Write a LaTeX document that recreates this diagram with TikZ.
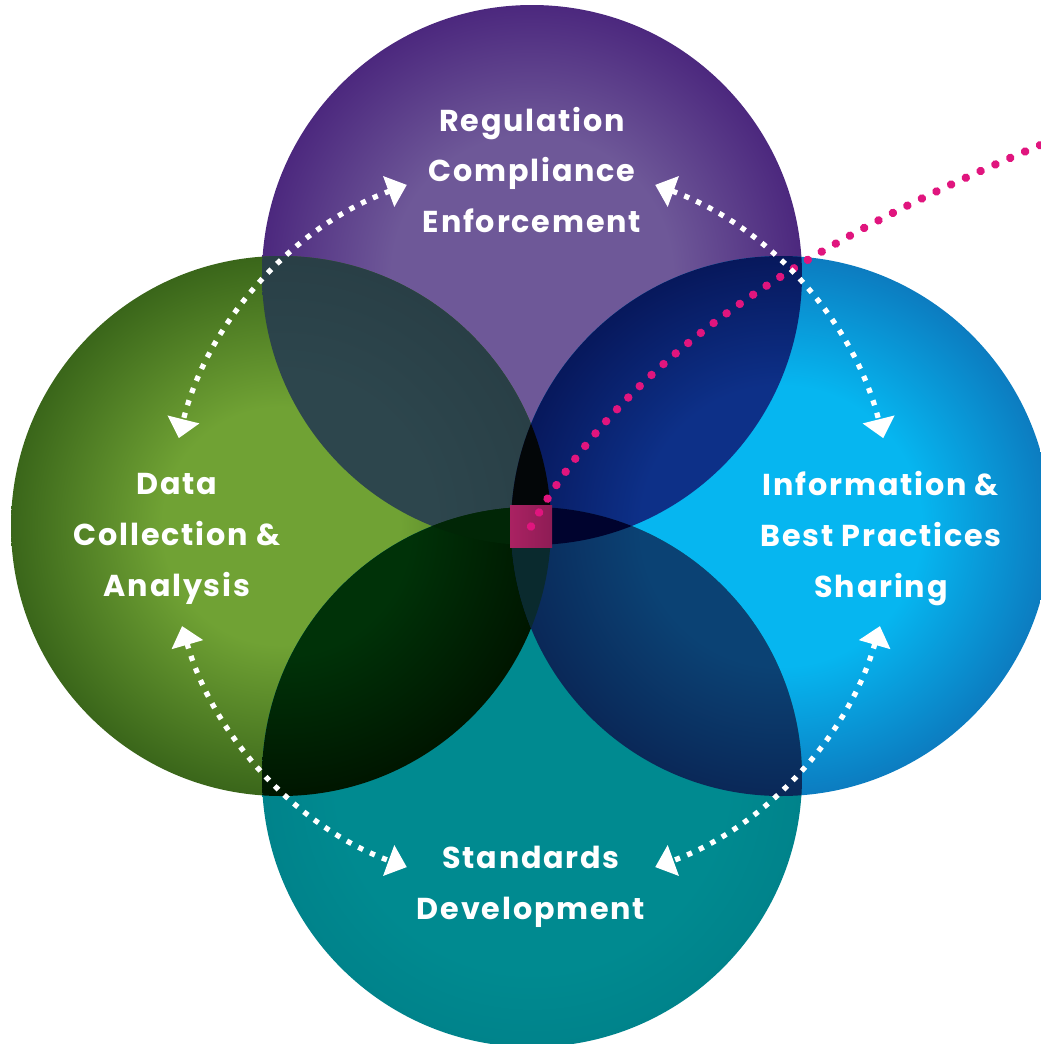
\documentclass[tikz,border=0pt]{standalone}
\usepackage{fontspec}
\setmainfont{Poppins}[LetterSpace=6]
\usetikzlibrary{arrows.meta,calc}
\definecolor{topIn}{HTML}{6E5898}
\definecolor{topOut}{HTML}{4C287E}
\definecolor{lftIn}{HTML}{70A234}
\definecolor{lftOut}{HTML}{3A661A}
\definecolor{rgtIn}{HTML}{06B6F0}
\definecolor{rgtOut}{HTML}{0C7CC0}
\definecolor{botIn}{HTML}{008A90}
\definecolor{botOut}{HTML}{00838B}
\definecolor{tlIn}{HTML}{2D464D}
\definecolor{tlOut}{HTML}{293F46}
\definecolor{trIn}{HTML}{0D3088}
\definecolor{trOut}{HTML}{07185C}
\definecolor{lbIn}{HTML}{003208}
\definecolor{lbOut}{HTML}{001600}
\definecolor{rbIn}{HTML}{0B4274}
\definecolor{rbOut}{HTML}{0A2858}
\definecolor{tlrCol}{HTML}{030608}
\definecolor{blrCol}{HTML}{0A2A2E}
\definecolor{tblCol}{HTML}{012606}
\definecolor{tbrCol}{HTML}{00032E}
\definecolor{sqA}{HTML}{AA2262}
\definecolor{sqB}{HTML}{8E1C55}
\definecolor{pinkDot}{HTML}{E0157E}
% the circle radius corresponds to 25bp of a radial shading
\pgfdeclareradialshading{topshade}{\pgfpointorigin}{color(0bp)=(topIn); color(13bp)=(topIn); color(25bp)=(topOut); color(50bp)=(topOut)}
\pgfdeclareradialshading{lftshade}{\pgfpointorigin}{color(0bp)=(lftIn); color(11bp)=(lftIn); color(25bp)=(lftOut); color(50bp)=(lftOut)}
\pgfdeclareradialshading{rgtshade}{\pgfpointorigin}{color(0bp)=(rgtIn); color(13bp)=(rgtIn); color(25bp)=(rgtOut); color(50bp)=(rgtOut)}
\pgfdeclareradialshading{botshade}{\pgfpointorigin}{color(0bp)=(botIn); color(18bp)=(botIn); color(25bp)=(botOut); color(50bp)=(botOut)}
\pgfdeclareradialshading{tlshade}{\pgfpointorigin}{color(0bp)=(tlIn); color(14bp)=(tlIn); color(25bp)=(tlOut); color(50bp)=(tlOut)}
\pgfdeclareradialshading{trshade}{\pgfpointorigin}{color(0bp)=(trIn); color(13bp)=(trIn); color(25bp)=(trOut); color(50bp)=(trOut)}
\pgfdeclareradialshading{lbshade}{\pgfpointorigin}{color(0bp)=(lbIn); color(12bp)=(lbIn); color(25bp)=(lbOut); color(50bp)=(lbOut)}
\pgfdeclareradialshading{rbshade}{\pgfpointorigin}{color(0bp)=(rbIn); color(13bp)=(rbIn); color(25bp)=(rbOut); color(50bp)=(rbOut)}
\def\CR{270}
\begin{document}
\begin{tikzpicture}[x=0.1mm,y=-0.1mm,
  txt/.style={text=white, font=\bfseries\fontsize{8.6}{14.5}\selectfont, align=center, inner sep=0pt},
  ring/.style={white, line width=1.5pt, dash pattern=on 1.5pt off 2.2pt, >={Triangle[length=5.5pt,width=9pt]}, <->},
  pinkline/.style={pinkDot, line width=2.4pt, line cap=round, dash pattern=on 0.01pt off 4.6pt}]
\useasboundingbox (0,0) rectangle (1040,1044);
\coordinate (C) at (531,526);
\coordinate (T) at (532,275);
\coordinate (B) at (532,777);
\coordinate (L) at (281,526);
\coordinate (R) at (781,526);
% circles
\shade[shading=topshade] (T) circle[radius=\CR];
\shade[shading=lftshade] (L) circle[radius=\CR];
\shade[shading=rgtshade] (R) circle[radius=\CR];
\shade[shading=botshade] (B) circle[radius=\CR];
% pairwise overlaps
\begin{scope}\clip (T) circle[radius=\CR]; \shade[shading=tlshade] (L) circle[radius=\CR];\end{scope}
\begin{scope}\clip (T) circle[radius=\CR]; \shade[shading=trshade] (R) circle[radius=\CR];\end{scope}
\begin{scope}\clip (B) circle[radius=\CR]; \shade[shading=lbshade] (L) circle[radius=\CR];\end{scope}
\begin{scope}\clip (B) circle[radius=\CR]; \shade[shading=rbshade] (R) circle[radius=\CR];\end{scope}
% triple overlaps
\begin{scope}\clip (L) circle[radius=\CR]; \clip (R) circle[radius=\CR]; \fill[tlrCol] (T) circle[radius=\CR];\end{scope}
\begin{scope}\clip (L) circle[radius=\CR]; \clip (R) circle[radius=\CR]; \fill[blrCol] (B) circle[radius=\CR];\end{scope}
\begin{scope}\clip (T) circle[radius=\CR]; \clip (B) circle[radius=\CR]; \fill[tblCol] (L) circle[radius=\CR];\end{scope}
\begin{scope}\clip (T) circle[radius=\CR]; \clip (B) circle[radius=\CR]; \fill[tbrCol] (R) circle[radius=\CR];\end{scope}
% centre square
\node (sq) [left color=sqA, right color=sqB, minimum size=4.2mm, inner sep=0pt] at (531,526.5) {};
% pink dotted callout
\coordinate (pe) at (1050,141);
\draw[pinkline] (sq.center) .. controls (628,352) and (812,240) .. (pe);
% cycle arrows
\coordinate (a1) at ($(C)+(250:363)$);
\coordinate (a2) at ($(C)+(290:363)$);
\coordinate (a3) at ($(C)+(164:363)$);
\coordinate (a4) at ($(C)+(16:363)$);
\draw[ring] (a1) arc[start angle=250, end angle=194, radius=363];
\draw[ring] (a2) arc[start angle=290, end angle=346, radius=363];
\draw[ring] (a3) arc[start angle=164, end angle=110, radius=363];
\draw[ring] (a4) arc[start angle=16, end angle=70, radius=363];
% labels
\node (tTop) [txt] at (532,170) {Regulation\\Compliance\\Enforcement};
\node (tLeft) [txt] at (177,539) {Data\\Collection \&\\Analysis};
\node (tRight) [txt] at (881,539) {Information \&\\Best Practices\\Sharing};
\node (tBot) [txt] at (531,887) {Standards\\Development};
\end{tikzpicture}
\end{document}
